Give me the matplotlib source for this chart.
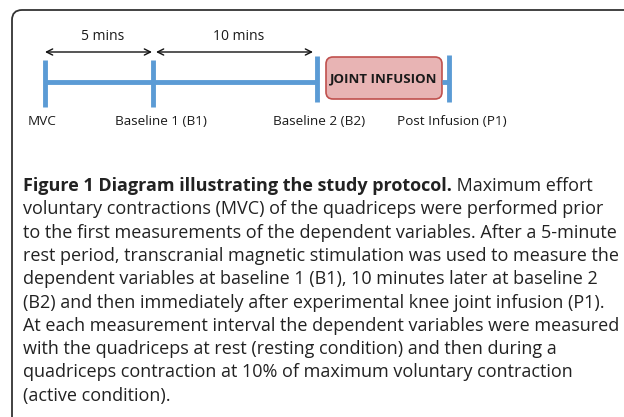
import matplotlib.pyplot as plt
from matplotlib.patches import FancyBboxPatch

# Timeline events and their positions along the diagram (pixels)
events = ['MVC', 'Baseline 1 (B1)', 'Baseline 2 (B2)', 'Post Infusion (P1)']
event_x = [45, 153, 317, 449]
label_x = [28, 115, 273, 397]

# Intervals drawn as arrows above the timeline
interval_labels = ['5 mins', '10 mins']
interval_span = [(45, 152), (156, 313)]

infusion_label = 'JOINT INFUSION'

caption_bold = 'Figure 1 Diagram illustrating the study protocol.'
caption_lines = [
    ' Maximum effort',
    'voluntary contractions (MVC) of the quadriceps were performed prior',
    'to the first measurements of the dependent variables. After a 5-minute',
    'rest period, transcranial magnetic stimulation was used to measure the',
    'dependent variables at baseline 1 (B1), 10 minutes later at baseline 2',
    '(B2) and then immediately after experimental knee joint infusion (P1).',
    'At each measurement interval the dependent variables were measured',
    'with the quadriceps at rest (resting condition) and then during a',
    'quadriceps contraction at 10% of maximum voluntary contraction',
    '(active condition).',
]

blue = '#5b9bd5'
font = 'Open Sans'

fig = plt.figure(figsize=(6.24, 4.17), dpi=100)
ax = fig.add_axes([0, 0, 1, 1])
ax.set_xlim(0, 624)
ax.set_ylim(417, 0)
ax.axis('off')

# outer rounded frame (runs off the right and bottom edges)
frame = FancyBboxPatch((12, 10), 640, 440, boxstyle='round,pad=0,rounding_size=10',
                       fc='white', ec='#333333', lw=1.3)
ax.add_patch(frame)

# timeline line
line_y = 82
ax.plot([event_x[0], event_x[2]], [line_y, line_y], color=blue, lw=3.5, solid_capstyle='butt')
ax.plot([442, event_x[3]], [line_y, line_y], color=blue, lw=3.5, solid_capstyle='butt')

# ticks
tick_spans = [(60, 107), (60, 107), (56, 102), (55, 102)]
for x, (y0, y1) in zip(event_x, tick_spans):
    ax.plot([x, x], [y0, y1], color=blue, lw=3.5, solid_capstyle='butt')

# infusion box
box = FancyBboxPatch((326, 57), 116, 42, boxstyle='round,pad=0,rounding_size=7',
                     fc='#e8b4b4', ec='#c0504d', lw=1.2)
ax.add_patch(box)
ax.text(384, 79, infusion_label, ha='center', va='center', fontsize=9.5,
        fontweight='bold', family=font, color='#1a1a1a')

# interval arrows
for lab, (x0, x1) in zip(interval_labels, interval_span):
    ax.annotate('', xy=(x1, 52), xytext=(x0, 52),
                arrowprops=dict(arrowstyle='<->', color='#111111', lw=1.0,
                                shrinkA=0, shrinkB=0, mutation_scale=11))
    ax.text((x0 + x1) / 2 + 4, 36, lab, ha='center', va='center',
            fontsize=10, family=font, color='#1a1a1a')

# event labels
for lab, x in zip(events, label_x):
    ax.text(x, 121, lab, ha='left', va='center', fontsize=9.7,
            family=font, color='#1a1a1a')

# caption
cap_x = 23
cap_y0 = 186
cap_dy = 23.3
fs = 13.0
t = ax.text(cap_x, cap_y0, caption_bold, ha='left', va='center', fontsize=fs,
            fontweight='bold', family=font, color='#222222')
fig.canvas.draw()
bb = t.get_window_extent()
inv = ax.transData.inverted()
x_end = inv.transform((bb.x1, bb.y0))[0]
ax.text(x_end, cap_y0, caption_lines[0], ha='left', va='center', fontsize=fs,
        family=font, color='#222222')
for i, line in enumerate(caption_lines[1:], start=1):
    ax.text(cap_x, cap_y0 + i * cap_dy, line, ha='left', va='center',
            fontsize=fs, family=font, color='#222222')

fig.savefig('out.png', dpi=100)
